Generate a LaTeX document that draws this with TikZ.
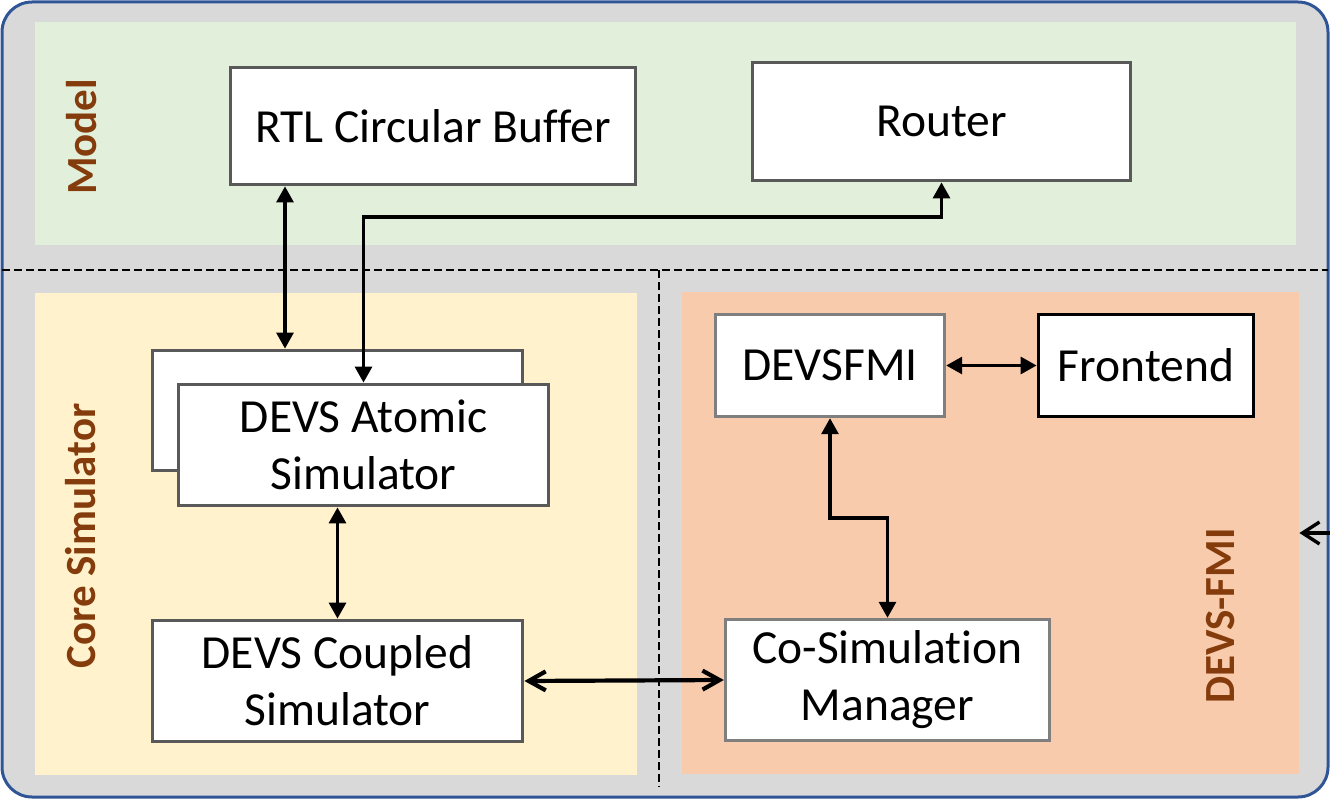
\documentclass[tikz,border=0pt]{standalone}
\usepackage{fontspec}
\setmainfont[Ligatures=CommonOff]{Carlito}
\usetikzlibrary{arrows.meta}

\definecolor{framegray}{HTML}{D9D9D9}
\definecolor{frameblue}{HTML}{2F5597}
\definecolor{modelgreen}{HTML}{E2EFDA}
\definecolor{coreyellow}{HTML}{FFF2CC}
\definecolor{fmiorange}{HTML}{F8CBAD}
\definecolor{labelbrown}{HTML}{843C0C}
\definecolor{darkedge}{HTML}{595959}
\definecolor{lightedge}{HTML}{7F7F7F}

\tikzset{
  panel/.style={anchor=north west, inner sep=0pt, draw=none},
  block/.style={draw=darkedge, line width=3.8pt, fill=white, inner sep=0pt,
    align=center, font=\fontsize{47.5pt}{57pt}\selectfont},
  fmiblock/.style={block, draw=lightedge, line width=3.4pt},
  frontblock/.style={block, draw=black},
  sidelabel/.style={rotate=90, anchor=base, text=labelbrown,
    font=\fontsize{43pt}{50pt}\selectfont\bfseries},
  sep/.style={line width=2.6pt, dash pattern=on 8pt off 4pt},
  link/.style={line width=3.1pt,
    {Triangle[length=16pt,width=17pt]}-{Triangle[length=16pt,width=17pt]}},
  barblink/.style={line width=4.2pt,
    {Straight Barb[length=17pt,width=19pt]}-{Straight Barb[length=17pt,width=19pt]}},
  barbend/.style={line width=3.4pt, -{Straight Barb[length=17pt,width=22pt]}}
}

\begin{document}
\begin{tikzpicture}[x=1pt,y=-1pt]
\useasboundingbox (0,0) rectangle (1330,799);

% outer frame
\draw[fill=framegray, draw=frameblue, line width=3pt, rounded corners=30pt]
  (2,2) rectangle (1328,797);

% coloured areas
\node[panel, fill=modelgreen, minimum width=1261pt, minimum height=223pt] (model) at (35,22) {};
\node[panel, fill=coreyellow, minimum width=602pt, minimum height=482pt] (core) at (35,293) {};
\node[panel, fill=fmiorange, minimum width=617pt, minimum height=482pt] (fmi) at (682,292) {};

% separators
\draw[sep] (2,270) -- (1328,270);
\draw[sep] (659,270) -- (659,787);

% area titles
\node[sidelabel] (modellbl) at (96,137) {Model};
\node[sidelabel] (corelbl) at (95,536) {Core Simulator};
\node[sidelabel] (fmilbl) at (1234,616) {DEVS-FMI};

% blocks
\node[block, minimum width=405pt, minimum height=117pt] (rtl) at (433,126) {RTL Circular Buffer};
\node[block, minimum width=378pt, minimum height=118pt] (router) at (941.5,121.5) {Router};
\node[block, minimum width=370pt, minimum height=120pt] (stack) at (337.5,410.5) {};
\node[block, minimum width=370pt, minimum height=121pt] (atomic) at (363.5,445) {DEVS Atomic\\Simulator};
\node[block, minimum width=370pt, minimum height=121pt] (coupled) at (337.5,681) {DEVS Coupled\\Simulator};
\node[fmiblock, minimum width=229pt, minimum height=102pt] (devsfmi) at (830,365.5) {DEVSFMI};
\node[frontblock, minimum width=215pt, minimum height=102pt] (frontend) at (1146,365.5) {Frontend};
\node[fmiblock, minimum width=324pt, minimum height=121pt] (cosim) at (887.5,680) {Co-Simulation\\Manager};

% routing helpers
\coordinate (rtlx) at (285,0);
\coordinate (busy) at (0,217);
\coordinate (jogy) at (0,518);
\coordinate (edge) at (1330,533);

% connectors
\draw[link] (rtl.south -| rtlx) -- (stack.north -| rtlx);
\draw[link] (atomic.north) -- (atomic.north |- busy) -| (router.south);
\draw[link] (atomic.south -| coupled.north) -- (coupled.north);
\draw[link] (devsfmi.east) -- (frontend.west);
\draw[link] (devsfmi.south) -- (devsfmi.south |- jogy) -| (cosim.north);
\draw[barblink] (coupled.east) -- (cosim.west);
\draw[barbend] (edge) -- (fmi.east |- edge);
\end{tikzpicture}
\end{document}
